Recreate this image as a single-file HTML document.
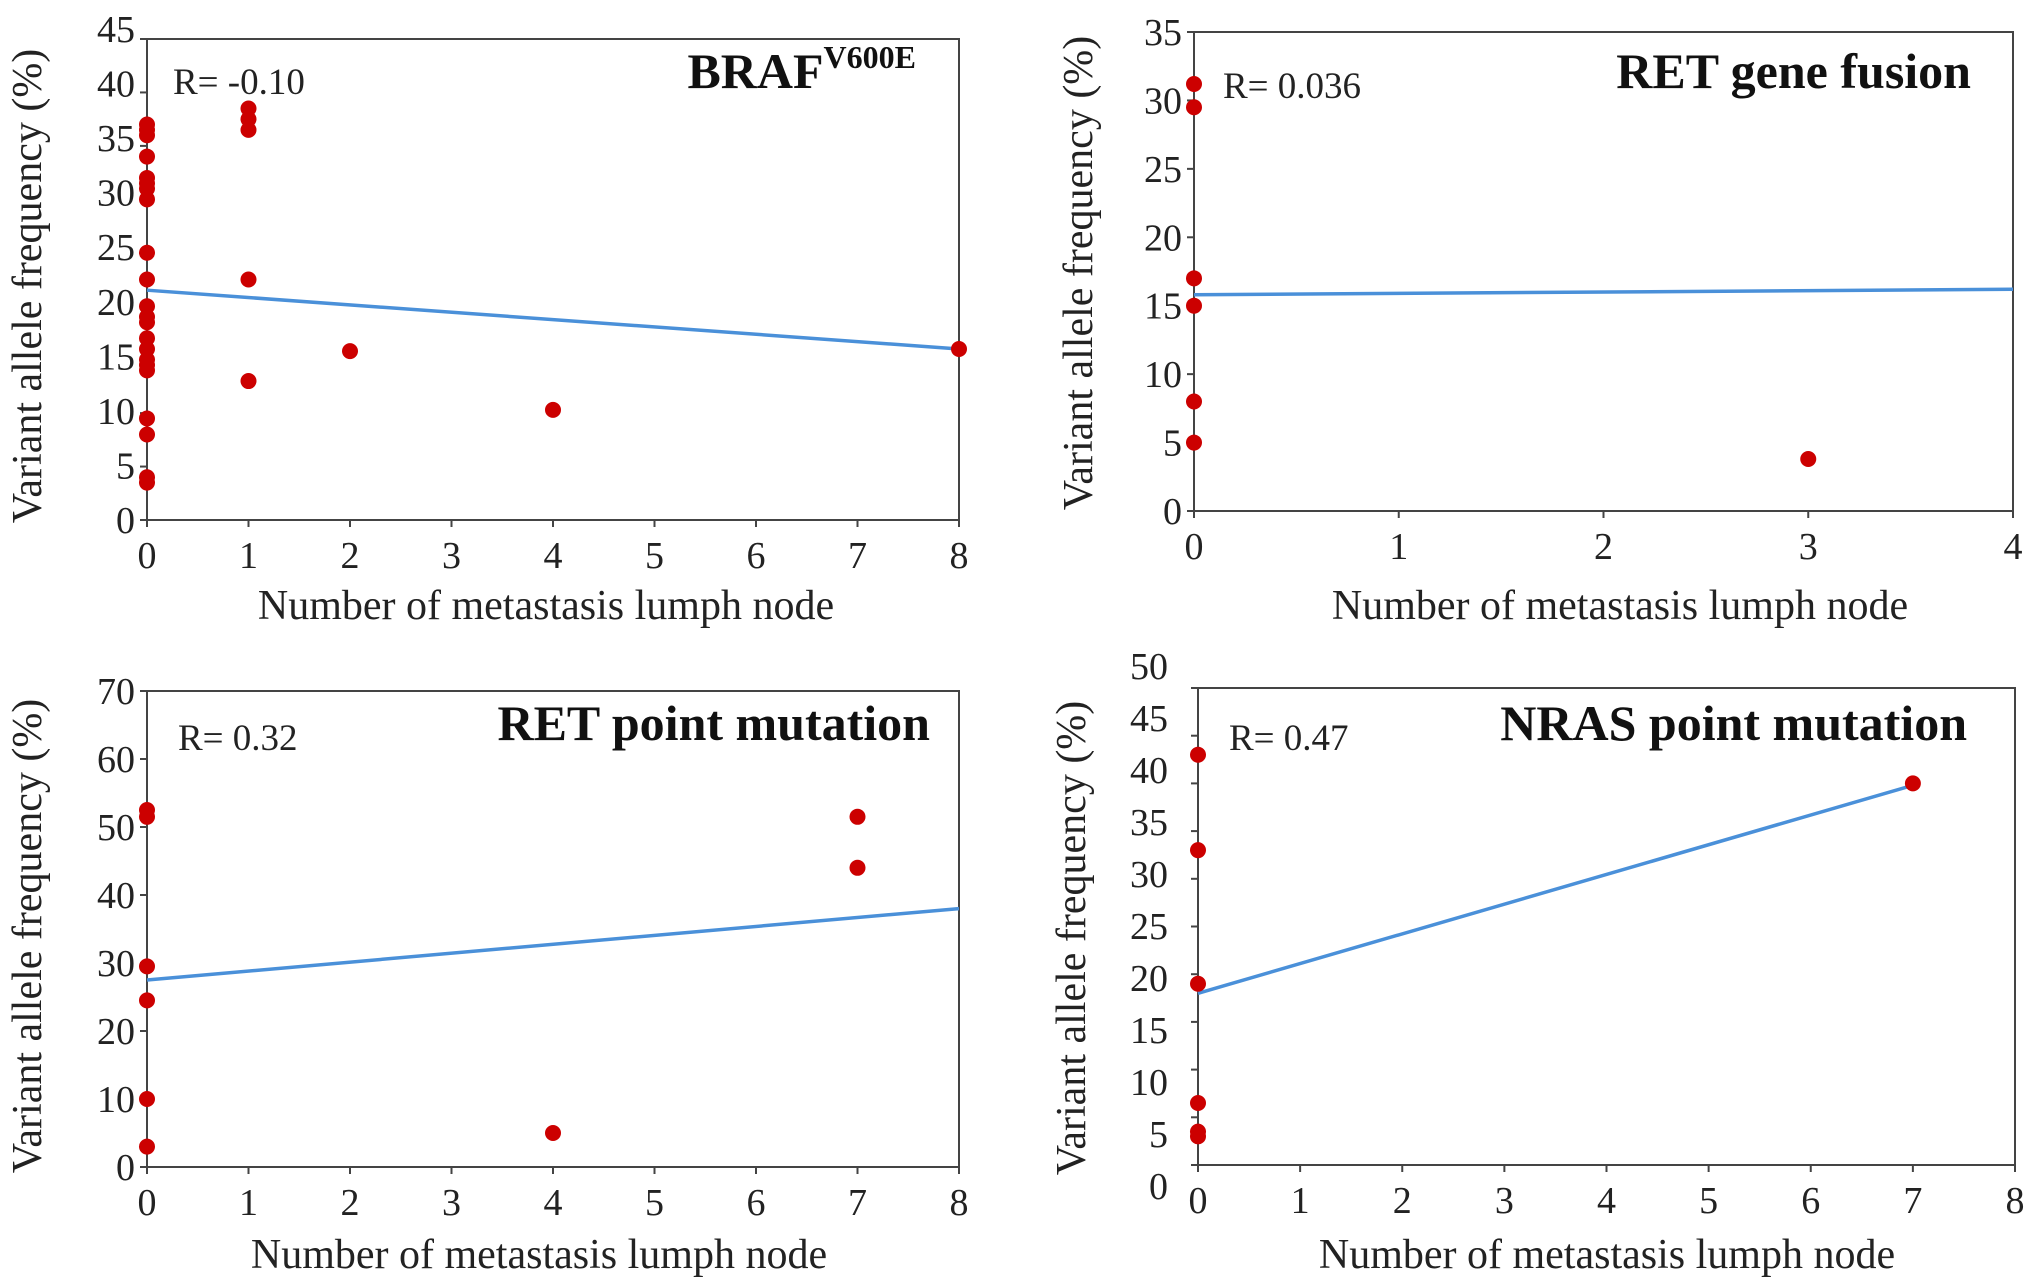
<!DOCTYPE html>
<html><head><meta charset="utf-8"><style>
html,body{margin:0;padding:0;background:#fff}
svg{display:block;font-family:"Liberation Serif",serif}
</style></head><body>
<svg id="chart" width="2031" height="1285" viewBox="0 0 2031 1285"></svg>
<script>
// Panel A: BRAF
const brafX = [0,0,0,0,0,0,0,0,0,0,0,0,0,0,0,0,0,0,0,0,0,0,1,1,1,1,1,2,4,8];
const brafY = [37,36.5,36,34,32,31.5,31,30,25,22.5,20,19,18.5,17,16,15,14.5,14,9.5,8,4,3.5,38.5,37.5,36.5,22.5,13,15.8,10.3,16];
const brafLine = [[0,21.5],[8,16]];
// Panel B: RET fusion
const fusX = [0,0,0,0,0,0,3];
const fusY = [31.2,29.5,17,15,8,5,3.8];
const fusLine = [[0,15.8],[4,16.2]];
// Panel C: RET point
const retX = [0,0,0,0,0,0,4,7,7];
const retY = [52.5,51.5,29.5,24.5,10,3,5,51.5,44];
const retLine = [[0,27.5],[8,38]];
// Panel D: NRAS
const nrasX = [0,0,0,0,0,0,7];
const nrasY = [43,33,19,6.5,3.5,3,40];
const nrasLine = [[0,18],[7,39.8]];
// Axis ticks
const xTicks8 = [0,1,2,3,4,5,6,7,8];
const xTicks4 = [0,1,2,3,4];
const yTicksA = [0,5,10,15,20,25,30,35,40,45];
const yTicksB = [0,5,10,15,20,25,30,35];
const yTicksC = [0,10,20,30,40,50,60,70];
const yTicksD = [0,5,10,15,20,25,30,35,40,45,50];

const NS="http://www.w3.org/2000/svg";
const svg=document.getElementById('chart');
function mk(tag,attrs,parent){const e=document.createElementNS(NS,tag);for(const k in attrs)e.setAttribute(k,attrs[k]);(parent||svg).appendChild(e);return e;}

const panels=[
 {id:'braf',L:147,R:959,T:39,B:520,xmax:8,ymax:45,xt:xTicks8,yt:yTicksA,xs:brafX,ys:brafY,line:brafLine,title:'BRAF',sup:'V600E',tx:916,ty:88,r:'R= -0.10',rx:173,ry:94,ylx:28,yly:286,xlx:546,xly:606,lab:[520,29],gap:12},
 {id:'ret-fusion',L:1194,R:2013,T:32,B:511,xmax:4,ymax:35,xt:xTicks4,yt:yTicksB,xs:fusX,ys:fusY,line:fusLine,title:'RET gene fusion',tx:1971,ty:88,r:'R= 0.036',rx:1223,ry:98,ylx:1079,yly:273,xlx:1620,xly:606,lab:null,gap:12},
 {id:'ret-point',L:147,R:959,T:691,B:1167,xmax:8,ymax:70,xt:xTicks8,yt:yTicksC,xs:retX,ys:retY,line:retLine,title:'RET point mutation',tx:930,ty:740,r:'R= 0.32',rx:178,ry:750,ylx:28,yly:936,xlx:539,xly:1255,lab:null,gap:12},
 {id:'nras',L:1198,R:2015,T:688,B:1165,xmax:8,ymax:50,xt:xTicks8,yt:yTicksD,xs:nrasX,ys:nrasY,line:nrasLine,title:'NRAS point mutation',tx:1967,ty:740,r:'R= 0.47',rx:1229,ry:750,ylx:1072,yly:938,xlx:1607,xly:1255,lab:[1186,666],gap:30}
];

panels.forEach(p=>{
 const g=mk('g',{});
 
 
 const sx=v=>p.L+(p.R-p.L)*v/p.xmax;
 const sy=v=>p.B-(p.B-p.T)*v/p.ymax;
 const ly=v=>p.lab?p.lab[0]-(p.lab[0]-p.lab[1])*v/p.ymax:sy(v);
 const box=mk('rect',{x:p.L,y:p.T,width:p.R-p.L,height:p.B-p.T,fill:'none',stroke:'#444','stroke-width':2},g);
 
 
 p.yt.forEach(v=>{
  mk('line',{x1:p.L-7,x2:p.L,y1:sy(v),y2:sy(v),stroke:'#444','stroke-width':2},g);
  const t=mk('text',{x:p.L-p.gap,y:ly(v)+13,'text-anchor':'end','font-size':38,fill:'#222'},g);
  t.textContent=v;
  
  
 });
 p.xt.forEach(v=>{
  mk('line',{x1:sx(v),x2:sx(v),y1:p.B,y2:p.B+7,stroke:'#444','stroke-width':2},g);
  const t=mk('text',{x:sx(v),y:p.B+48,'text-anchor':'middle','font-size':38,fill:'#222'},g);
  t.textContent=v;
  
  
 });
 const ln=mk('line',{x1:sx(p.line[0][0]),y1:sy(p.line[0][1]),x2:sx(p.line[1][0]),y2:sy(p.line[1][1]),stroke:'#4a90d9','stroke-width':3.5},g);
 
 
 p.xs.forEach((x,i)=>{
  const c=mk('circle',{cx:sx(x),cy:sy(p.ys[i]),r:8,fill:'#cc0000'},g);
  
  
 });
 const ti=mk('text',{x:p.tx,y:p.ty,'text-anchor':'end','font-size':50,'font-weight':'bold',fill:'#111'},g);
 
 
 ti.textContent=p.title;
 if(p.sup){const s=mk('tspan',{'font-size':32,dy:-20},ti);s.textContent=p.sup;}
 const r=mk('text',{x:p.rx,y:p.ry,'font-size':37,fill:'#222'},g);
 r.textContent=p.r;
 
 
 const yl=mk('text',{x:p.ylx,y:p.yly,'text-anchor':'middle','font-size':42,fill:'#222',transform:`rotate(-90 ${p.ylx} ${p.yly})`,'dominant-baseline':'central'},g);
 yl.textContent='Variant allele frequency (%)';
 
 
 const xl=mk('text',{x:p.xlx,y:p.xly+13,'text-anchor':'middle','font-size':42,fill:'#222'},g);
 xl.textContent='Number of metastasis lumph node';
 
 
});
</script>
</body></html>
